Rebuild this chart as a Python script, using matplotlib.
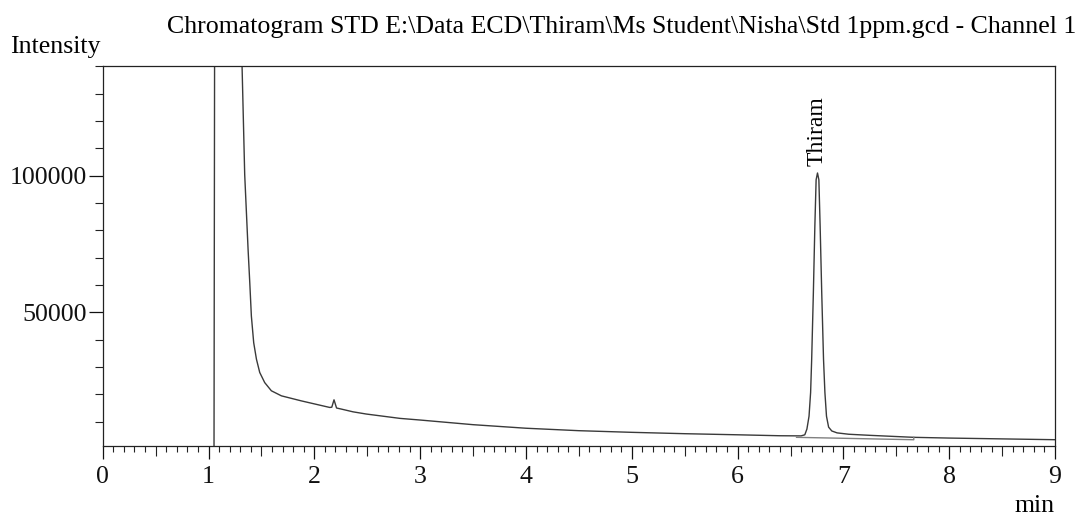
import numpy as np
import matplotlib.pyplot as plt
from matplotlib.ticker import MultipleLocator, FixedLocator

plt.rcParams['font.family'] = ['Liberation Serif', 'DejaVu Serif']

# retention time (min) and detector signal
time_min = [1.052, 1.058, 1.305, 1.317, 1.342, 1.374, 1.39, 1.405, 1.427, 1.453,
            1.484, 1.531, 1.594, 1.689, 1.878, 2.146, 2.165, 2.186, 2.21, 2.256,
            2.366, 2.49, 2.62, 2.81, 3.0, 3.5, 4.0, 4.5, 5.0, 5.5,
            6.0, 6.4, 6.6, 6.635, 6.655, 6.675, 6.69, 6.70, 6.716, 6.73,
            6.742, 6.755, 6.768, 6.78, 6.795, 6.812, 6.825, 6.84, 6.86, 6.89,
            6.94, 7.05, 7.25, 7.665, 8.0, 8.5, 9.0]
intensity = [0, 160000, 160000, 140150, 100400, 73000, 60800, 48650, 38900, 32850,
             28000, 24300, 21300, 19450, 17600, 15200, 15300, 18000, 15000, 14600,
             13600, 12800, 12150, 11200, 10600, 8900, 7600, 6700, 6100, 5600,
             5200, 4850, 4800, 5200, 7300, 12000, 20700, 32800, 57200, 81500,
             98500, 101000, 98500, 81500, 57200, 32800, 20700, 12000, 8000, 6600,
             5900, 5400, 5000, 4270, 4000, 3700, 3400]

# integration baseline under the Thiram peak
base_time = [6.557, 7.665, 7.665]
base_level = [4270, 3390, 4270]

peak_name = "Thiram"
peak_time = 6.755
peak_height = 101000

title = r"Chromatogram STD E:\Data ECD\Thiram\Ms Student\Nisha\Std 1ppm.gcd - Channel 1"

fs = 18.6
line_color = "#3a3a3a"

fig = plt.figure(figsize=(10.81, 5.16), dpi=100)
ax = fig.add_axes([0.0950, 0.1362, 0.8810, 0.7359])

ax.plot(time_min, intensity, color=line_color, linewidth=1.0)
ax.plot(base_time, base_level, color="#808080", linewidth=1.0)

ax.annotate(peak_name, xy=(peak_time, peak_height), xytext=(0, 5),
            textcoords="offset points", rotation=90, ha="center", va="bottom",
            fontsize=17)

ax.set_xlim(0, 9)
ax.set_ylim(1200, 140150)

ax.xaxis.set_major_locator(MultipleLocator(1))
minor_x = [round(i * 0.1, 1) for i in range(91) if i % 10 != 0]
ax.xaxis.set_minor_locator(FixedLocator(minor_x))
ax.yaxis.set_major_locator(FixedLocator([50000, 100000]))
ax.yaxis.set_minor_locator(MultipleLocator(10000))

ax.tick_params(axis="x", which="major", direction="out", length=9.4, width=0.9,
               pad=5.5, labelsize=fs, colors="#111111")
ax.tick_params(axis="x", which="minor", direction="out", length=4.3, width=0.8,
               colors="#222222")
ax.tick_params(axis="y", which="major", direction="out", length=10, width=0.9,
               pad=1.5, labelsize=fs, colors="#111111")
ax.tick_params(axis="y", which="minor", direction="out", length=5.5, width=0.8,
               colors="#222222")

# half-minute ticks are a bit longer
for loc, tick in zip(minor_x, ax.xaxis.get_minor_ticks(len(minor_x))):
    if abs(loc * 10 % 10 - 5) < 1e-6:
        tick.tick1line.set_markersize(7.2)

for side in ["left", "right", "top", "bottom"]:
    ax.spines[side].set_linewidth(0.9)
    ax.spines[side].set_color("#222222")

fig.text(166.7 / 1081, 1 - 32.7 / 516, title, ha="left", va="baseline", fontsize=fs)
fig.text(10 / 1081, 1 - 53 / 516, "Intensity", ha="left", va="baseline", fontsize=fs)
fig.text(1055 / 1081, 1 - 512 / 516, "min", ha="right", va="baseline", fontsize=fs)

plt.savefig("out.png", dpi=100)
